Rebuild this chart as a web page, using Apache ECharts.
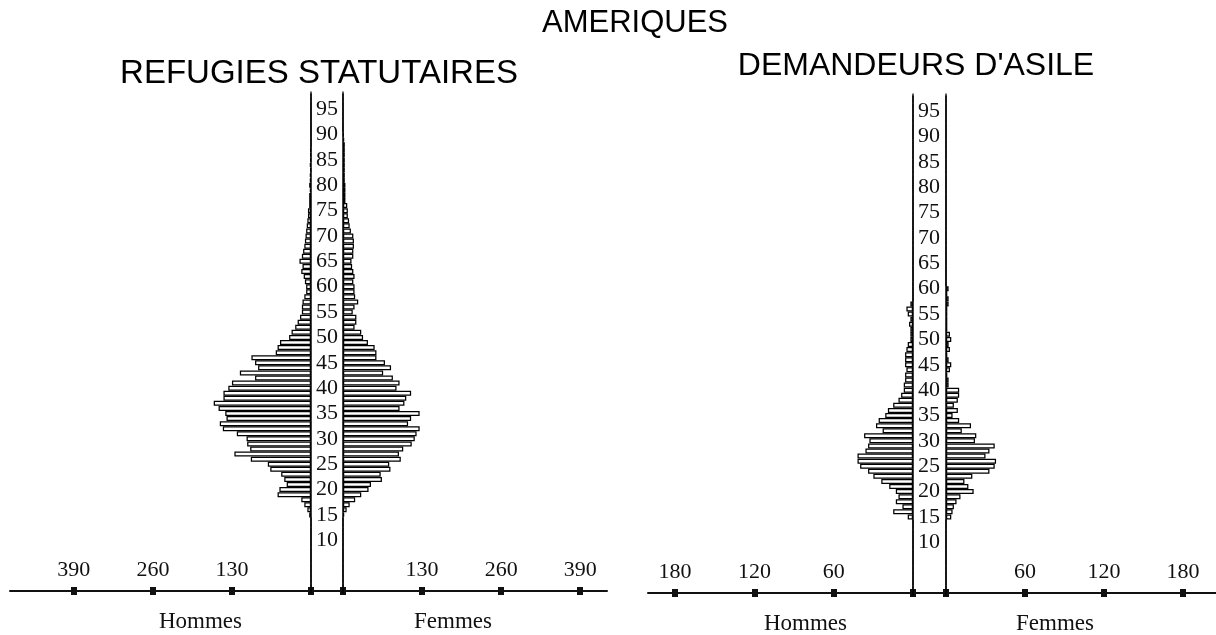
<!DOCTYPE html>
<html><head><meta charset="utf-8">
<script src="https://cdn.jsdelivr.net/npm/echarts@6/dist/echarts.min.js"></script>
<style>html,body{margin:0;padding:0;background:#fff}#c{width:1216px;height:635px}</style>
</head><body><div id="c"></div>
<script>
// ---- data (values per single year of age, starting at START_AGE) ----
const START_AGE = 15;
const AGE_MAX = 98;
const ageLabels = [10,15,20,25,30,35,40,45,50,55,60,65,70,75,80,85,90,95];
const refTicks = [0,130,260,390];
const demTicks = [0,60,120,180];

// Réfugiés statutaires
const refHommes = [3,6,11,16,55,52,40,44,49,67,71,99,126,100,105,106,
  122,145,150,139,141,152,160,144,144,136,
  130,92,117,87,92,98,58,55,51,36,
  32,26,22,18,15,15,14,11,8,8,
  10,12,16,14,19,15,13,11,10,9,
  8,7,6,5,5,3,3,3,2,3,
  2,2,1,2,1,1,1];
const refFemmes = [2,6,11,20,30,42,46,64,62,78,76,95,92,99,113,118,
  121,126,107,112,126,93,101,104,112,88,
  93,82,66,79,69,55,55,52,41,33,
  30,19,22,22,16,19,25,20,19,19,
  17,19,17,15,14,17,17,18,18,17,
  13,11,10,8,8,7,4,4,4,4,
  3,3,3,3,3,3,3,3,2,1];
// Demandeurs d'asile
const demHommes = [4,15,8,13,11,13,18,24,30,34,40,42,42,36,34,33,
  37,23,28,26,21,19,15,11,9,7,
  7,6,6,5,6,6,6,5,4,2,
  2,2,3,2,4,5,2];
const demFemmes = [4,5,6,8,11,21,17,14,20,33,37,38,30,33,37,22,
  23,12,19,10,5,9,6,9,10,10,
  2,2,1,3,4,2,1,3,2,4,
  3,1,1,1,1,1,2,2,1,2];

// ---- build ----
const ages = [];
for (let a = 0; a <= AGE_MAX; a++) ages.push(String(a));
function byAge(vals){
  const out = ages.map(() => 0);
  vals.forEach((v, i) => { out[START_AGE + i] = v; });
  return out;
}
const SERIF = 'Liberation Serif';
const INK = '#111111';

function grid(left, top, width){
  return {left, top, width, height: 497, containLabel: false, outerBoundsMode: 'none'};
}
const grids = [
  grid(10, 94, 301),  // 0 ref hommes
  grid(311, 94, 32),  // 1 ref strip
  grid(343, 94, 264), // 2 ref femmes
  grid(648, 96, 265), // 3 dem hommes
  grid(913, 96, 33),  // 4 dem strip
  grid(946, 96, 270)  // 5 dem femmes
];

const xAxes = [];
const yAxes = [];
function sideAxes(g, max, inverse, ticks, name, namePad){
  const idx = xAxes.length;
  xAxes.push({
    type: 'value', gridIndex: g, min: 0, max, inverse, position: 'bottom',
    splitLine: {show: false},
    axisLine: {show: true, lineStyle: {color: INK, width: 2}},
    axisTick: {show: true, length: 4, customValues: ticks, lineStyle: {color: INK, width: 6}},
    axisLabel: {show: true, inside: true, margin: 10, customValues: ticks.slice(1),
      fontFamily: SERIF, fontSize: 22, color: INK},
    name, nameLocation: 'middle', nameGap: 19,
    nameTextStyle: {fontFamily: SERIF, fontSize: 23, color: INK, padding: namePad, lineHeight: 24}
  });
  xAxes.push({
    type: 'value', gridIndex: g, min: 0, max, inverse, position: 'bottom',
    splitLine: {show: false}, axisLine: {show: false},
    axisTick: {show: true, inside: true, length: 4, customValues: ticks, lineStyle: {color: INK, width: 6}},
    axisLabel: {show: false}
  });
  return idx;
}
function yAxis(g, position, labels){
  yAxes.push({
    type: 'category', gridIndex: g, data: ages, boundaryGap: false, position,
    axisLine: {show: true, lineStyle: {color: INK, width: 1.6}},
    axisTick: {show: false}, splitLine: {show: false},
    axisLabel: labels ? {
      show: true, interval: (i, v) => ageLabels.indexOf(+v) >= 0,
      align: 'center', margin: 16, fontFamily: SERIF, fontSize: 22, color: INK
    } : {show: false}
  });
  return yAxes.length - 1;
}
function stripAxes(g){
  xAxes.push({type: 'value', gridIndex: g, min: 0, max: 1, position: 'bottom',
    splitLine: {show: false}, axisTick: {show: false}, axisLabel: {show: false},
    axisLine: {show: true, lineStyle: {color: INK, width: 2}}});
  yAxes.push({type: 'category', gridIndex: g, data: ages, show: false});
}

const xLH = sideAxes(0, 495, true, refTicks, 'Hommes', [0, 0, 0, 80]);
const yLH = yAxis(0, 'right', true);
stripAxes(1);
const xLF = sideAxes(2, 434, false, refTicks, 'Femmes', [0, 44, 0, 0]);
const yLF = yAxis(2, 'left', false);
const xRH = sideAxes(3, 200.5, true, demTicks, 'Hommes', [0, 0, 0, 50]);
const yRH = yAxis(3, 'right', true);
stripAxes(4);
const xRF = sideAxes(5, 205, false, demTicks, 'Femmes', [0, 52, 0, 0]);
const yRF = yAxis(5, 'left', false);

function bars(name, vals, xi, yi){
  return {
    name, type: 'bar', xAxisIndex: xi, yAxisIndex: yi, data: byAge(vals),
    barWidth: 5, silent: true, animation: false,
    itemStyle: {color: '#ffffff', borderColor: '#000000', borderWidth: 1.25}
  };
}

const chart = echarts.init(document.getElementById('c'), null, {renderer: 'canvas'});
chart.setOption({
  backgroundColor: '#ffffff',
  animation: false,
  grid: grids,
  xAxis: xAxes,
  yAxis: yAxes,
  graphic: [
    {type: 'text', x: 635, y: 23, style: {text: 'AMERIQUES', fontFamily: 'Liberation Sans', fontSize: 31, fill: '#000', textAlign: 'center', textVerticalAlign: 'middle'}},
    {type: 'text', x: 319, y: 74, style: {text: 'REFUGIES STATUTAIRES', fontFamily: 'Liberation Sans', fontSize: 33, fill: '#000', textAlign: 'center', textVerticalAlign: 'middle'}},
    {type: 'text', x: 916, y: 66, style: {text: "DEMANDEURS D'ASILE", fontFamily: 'Liberation Sans', fontSize: 32, fill: '#000', textAlign: 'center', textVerticalAlign: 'middle'}}
  ],
  series: [
    bars('Réfugiés – Hommes', refHommes, xLH, yLH),
    bars('Réfugiés – Femmes', refFemmes, xLF, yLF),
    bars("Demandeurs d'asile – Hommes", demHommes, xRH, yRH),
    bars("Demandeurs d'asile – Femmes", demFemmes, xRF, yRF)
  ]
});
</script></body></html>
